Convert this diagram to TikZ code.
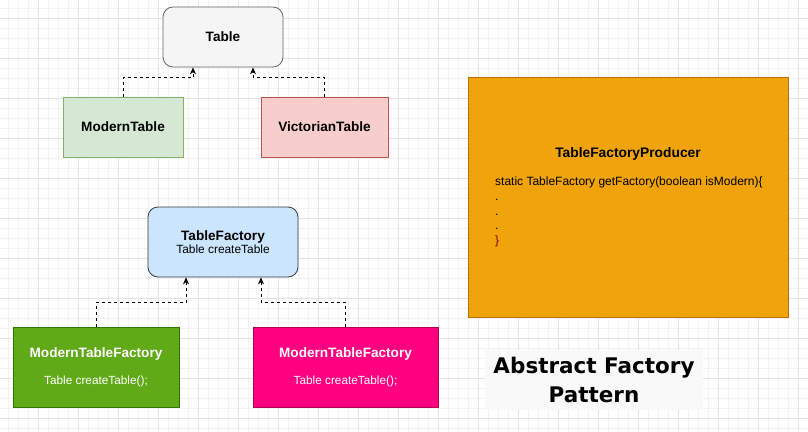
\documentclass[tikz,border=0pt]{standalone}
\usepackage{fontspec}
\setmainfont{Liberation Sans}
\newfontfamily\titlefont{DejaVu Sans}
\usetikzlibrary{arrows.meta}
\definecolor{gridminor}{HTML}{F2F2F2}
\definecolor{gridmajor}{HTML}{E3E3E3}
\definecolor{greyfill}{HTML}{F5F5F5}
\definecolor{greyline}{HTML}{666666}
\definecolor{greenfill}{HTML}{D5E8D4}
\definecolor{greenline}{HTML}{82B366}
\definecolor{redfill}{HTML}{F8CECC}
\definecolor{redline}{HTML}{B85450}
\definecolor{bluefill}{HTML}{CCE5FF}
\definecolor{blueline}{HTML}{36393D}
\definecolor{leaffill}{HTML}{60A917}
\definecolor{leafline}{HTML}{2D7600}
\definecolor{pinkfill}{HTML}{FF0080}
\definecolor{pinkline}{HTML}{B20050}
\definecolor{orangefill}{HTML}{F0A30A}
\definecolor{orangeline}{HTML}{BD7000}
\definecolor{notefill}{HTML}{F9F9F9}
\begin{document}
\begin{tikzpicture}[x=1pt, y=-1pt,
    box/.style={draw, line width=0.8pt, inner sep=0pt, align=center,
        font=\fontsize{13.6}{15}\selectfont\bfseries},
    roundbox/.style={box, rounded corners=10pt},
    dep/.style={dashed, line width=0.8pt, -{Stealth[length=7pt, width=6pt]}}
]
    \useasboundingbox (0,0) rectangle (808,431);
    \fill[white] (0,0) rectangle (808,431);
    % background grid
    \foreach \gx in {8,18,...,808} \draw[gridminor, line width=0.6pt] (\gx,0) -- (\gx,431);
    \foreach \gy in {8,18,...,428} \draw[gridminor, line width=0.6pt] (0,\gy) -- (808,\gy);
    \foreach \gx in {38,78,...,798} \draw[gridmajor, line width=0.8pt] (\gx,0) -- (\gx,431);
    \foreach \gy in {18,58,...,418} \draw[gridmajor, line width=0.8pt] (0,\gy) -- (808,\gy);
    % products
    \node[roundbox, fill=greyfill, draw=greyline, minimum width=120pt, minimum height=60pt] (table) at (223,37) {Table};
    \node[box, fill=greenfill, draw=greenline, minimum width=120pt, minimum height=60pt] (modern) at (123,127) {ModernTable};
    \node[box, fill=redfill, draw=redline, minimum width=127pt, minimum height=60pt] (victorian) at (324.5,127) {VictorianTable};
    \draw[dep] (modern.north) |- ([xshift=-30pt, yshift=-10pt]table.south) -- ([xshift=-30pt]table.south);
    \draw[dep] (victorian.north) |- ([xshift=30pt, yshift=-10pt]table.south) -- ([xshift=30pt]table.south);
    % factories
    \node[roundbox, fill=bluefill, draw=blueline, minimum width=150pt, minimum height=70pt] (factory) at (223,242)
        {TableFactory\\[-2pt]{\fontsize{11.9}{13}\selectfont\mdseries Table createTable}};
    \node[box, fill=leaffill, draw=leafline, text=white, minimum width=166pt, minimum height=80pt] (modernf) at (96,367)
        {ModernTableFactory\\[12pt]{\fontsize{11.8}{13}\selectfont\mdseries Table createTable();}};
    \node[box, fill=pinkfill, draw=pinkline, text=white, minimum width=185pt, minimum height=80pt] (victorianf) at (345.5,367)
        {ModernTableFactory\\[12pt]{\fontsize{11.8}{13}\selectfont\mdseries Table createTable();}};
    \draw[dep] (modernf.north) |- ([xshift=-37pt, yshift=-25pt]factory.south) -- ([xshift=-37pt]factory.south);
    \draw[dep] (victorianf.north) |- ([xshift=38pt, yshift=-25pt]factory.south) -- ([xshift=38pt]factory.south);
    % producer
    \node[box, fill=orangefill, draw=orangeline, minimum width=320pt, minimum height=240pt] (producer) at (628,197) {};
    \node[font=\fontsize{13.8}{15}\selectfont\bfseries] (producertitle) at (628,154) {TableFactoryProducer};
    \node[anchor=north west, inner sep=0pt, align=left, font=\fontsize{12}{14.7}\selectfont] (producercode) at (495,177)
        {static TableFactory getFactory(boolean isModern)\{\\ .\\ .\\ .\\ \textcolor{red!50!black}{\}}};
    % caption
    \node[fill=notefill, minimum width=218pt, minimum height=60pt, inner sep=0pt, align=center,
        font=\fontsize{21.5}{29}\titlefont\bfseries] (caption) at (594,380) {Abstract Factory\\Pattern};
\end{tikzpicture}
\end{document}
